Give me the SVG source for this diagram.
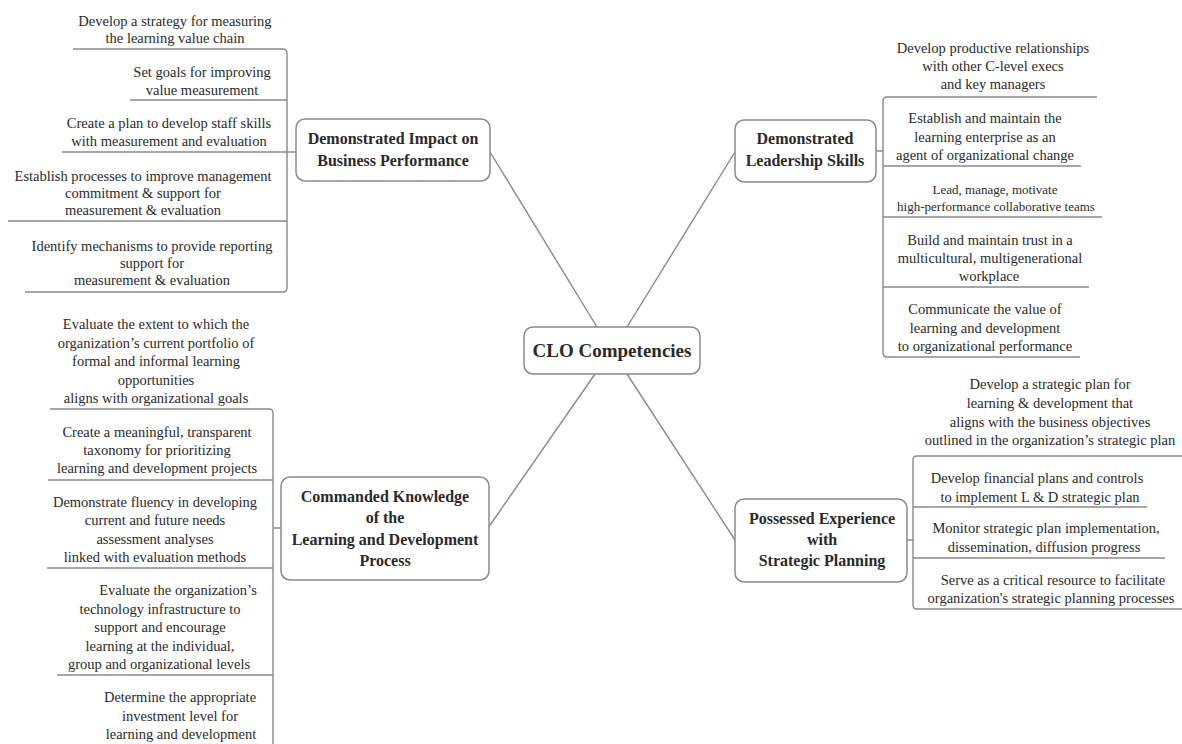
<svg xmlns="http://www.w3.org/2000/svg" width="1182" height="744" viewBox="0 0 1182 744">
<style>
.bg{fill:#ffffff}
.box{fill:#ffffff;stroke:#8a8a8a;stroke-width:1.5}
.t{font-family:"Liberation Serif","Times New Roman",serif;font-size:14.5px;fill:#2a2a2a;text-anchor:middle}
.s{font-size:13px}
.b{font-family:"Liberation Serif","Times New Roman",serif;font-weight:bold;font-size:16px;fill:#2a2a2a;text-anchor:middle}
.c{font-size:19px}
.ln{fill:none;stroke:#8a8a8a;stroke-width:1.4}
</style>
<rect class="bg" x="0" y="0" width="1182" height="744"/>

<g id="connectors">
  <line class="ln" x1="597" y1="327" x2="490" y2="152"/>
  <line class="ln" x1="627" y1="327" x2="735" y2="152"/>
  <line class="ln" x1="595" y1="374" x2="488" y2="528"/>
  <line class="ln" x1="627" y1="374" x2="735" y2="540"/>
  <!-- brackets -->
  <path class="ln" d="M287 53 Q287 49 283 49 M287 53 V288 Q287 292 283 292 M287 152 H296"/>
  <path class="ln" d="M273 413 Q273 409 269 409 M273 413 V744 M273 528 H281"/>
  <path class="ln" d="M883 101 Q883 97 887 97 M883 101 V353 Q883 357 887 357 M876 151 H883"/>
  <path class="ln" d="M913 460 Q913 456 917 456 M913 460 V605 Q913 609 917 609 M907 540 H913"/>
</g>

<g id="center">
  <rect class="box" x="524" y="327" width="176" height="47" rx="9"/>
  <text class="b c" x="612" y="357">CLO Competencies</text>
</g>

<g id="impact">
  <rect class="box" x="296" y="119" width="194" height="62" rx="9"/>
  <text class="b" x="393" y="144">Demonstrated Impact on</text>
  <text class="b" x="393" y="166">Business Performance</text>
</g>
<g id="impact-1">
  <text class="t" x="175" y="26">Develop a strategy for measuring</text>
  <text class="t" x="175" y="43">the learning value chain</text>
  <line class="ln" x1="73" y1="49" x2="283" y2="49"/>
</g>
<g id="impact-2">
  <text class="t" x="202" y="77">Set goals for improving</text>
  <text class="t" x="202" y="95">value measurement</text>
  <line class="ln" x1="130" y1="100" x2="287" y2="100"/>
</g>
<g id="impact-3">
  <text class="t" x="169" y="128">Create a plan to develop staff skills</text>
  <text class="t" x="169" y="146">with measurement and evaluation</text>
  <line class="ln" x1="62" y1="152" x2="287" y2="152"/>
</g>
<g id="impact-4">
  <text class="t" x="143" y="181">Establish processes to improve management</text>
  <text class="t" x="143" y="198">commitment &amp; support for</text>
  <text class="t" x="143" y="215">measurement &amp; evaluation</text>
  <line class="ln" x1="8" y1="221" x2="287" y2="221"/>
</g>
<g id="impact-5">
  <text class="t" x="152" y="251">Identify mechanisms to provide reporting</text>
  <text class="t" x="152" y="268">support for</text>
  <text class="t" x="152" y="285">measurement &amp; evaluation</text>
  <line class="ln" x1="25" y1="292" x2="283" y2="292"/>
</g>

<g id="knowledge">
  <rect class="box" x="281" y="477" width="208" height="103" rx="9"/>
  <text class="b" x="385" y="502">Commanded Knowledge</text>
  <text class="b" x="385" y="523">of the</text>
  <text class="b" x="385" y="545">Learning and Development</text>
  <text class="b" x="385" y="566">Process</text>
</g>
<g id="knowledge-1">
  <text class="t" x="156" y="329">Evaluate the extent to which the</text>
  <text class="t" x="156" y="347.5">organization’s current portfolio of</text>
  <text class="t" x="156" y="366">formal and informal learning</text>
  <text class="t" x="156" y="384.5">opportunities</text>
  <text class="t" x="156" y="403">aligns with organizational goals</text>
  <line class="ln" x1="50" y1="409" x2="269" y2="409"/>
</g>
<g id="knowledge-2">
  <text class="t" x="157" y="437">Create a meaningful, transparent</text>
  <text class="t" x="157" y="455">taxonomy for prioritizing</text>
  <text class="t" x="157" y="473">learning and development projects</text>
  <line class="ln" x1="48" y1="480" x2="273" y2="480"/>
</g>
<g id="knowledge-3">
  <text class="t" x="155" y="507">Demonstrate fluency in developing</text>
  <text class="t" x="155" y="525">current and future needs</text>
  <text class="t" x="155" y="543.5">assessment analyses</text>
  <text class="t" x="155" y="562">linked with evaluation methods</text>
  <line class="ln" x1="47" y1="568" x2="273" y2="568"/>
</g>
<g id="knowledge-4">
  <text class="t" x="178" y="595">Evaluate the organization’s</text>
  <text class="t" x="160" y="613.5">technology infrastructure to</text>
  <text class="t" x="160" y="632">support and encourage</text>
  <text class="t" x="160" y="650.5">learning at the individual,</text>
  <text class="t" x="159" y="669">group and organizational levels</text>
  <line class="ln" x1="57" y1="675" x2="273" y2="675"/>
</g>
<g id="knowledge-5">
  <text class="t" x="180" y="702">Determine the appropriate</text>
  <text class="t" x="180" y="720.5">investment level for</text>
  <text class="t" x="181" y="739">learning and development</text>
</g>

<g id="leadership">
  <rect class="box" x="735" y="120" width="141" height="62" rx="9"/>
  <text class="b" x="805" y="144">Demonstrated</text>
  <text class="b" x="805" y="166">Leadership Skills</text>
</g>
<g id="leadership-1">
  <text class="t" x="993" y="53">Develop productive relationships</text>
  <text class="t" x="993" y="71">with other C-level execs</text>
  <text class="t" x="993" y="89">and key managers</text>
  <line class="ln" x1="887" y1="97" x2="1097" y2="97"/>
</g>
<g id="leadership-2">
  <text class="t" x="985" y="123">Establish and maintain the</text>
  <text class="t" x="985" y="141.5">learning enterprise as an</text>
  <text class="t" x="985" y="160">agent of organizational change</text>
  <line class="ln" x1="883" y1="166" x2="1081" y2="166"/>
</g>
<g id="leadership-3">
  <text class="t s" x="995" y="194">Lead, manage, motivate</text>
  <text class="t s" x="996" y="211">high-performance collaborative teams</text>
  <line class="ln" x1="883" y1="217" x2="1102" y2="217"/>
</g>
<g id="leadership-4">
  <text class="t" x="990" y="245">Build and maintain trust in a</text>
  <text class="t" x="990" y="263">multicultural, multigenerational</text>
  <text class="t" x="989" y="281">workplace</text>
  <line class="ln" x1="883" y1="287" x2="1089" y2="287"/>
</g>
<g id="leadership-5">
  <text class="t" x="985" y="314">Communicate the value of</text>
  <text class="t" x="985" y="332.5">learning and development</text>
  <text class="t" x="985" y="351">to organizational performance</text>
  <line class="ln" x1="887" y1="357" x2="1080" y2="357"/>
</g>

<g id="planning">
  <rect class="box" x="735" y="499" width="172" height="83" rx="9"/>
  <text class="b" x="822" y="524">Possessed Experience</text>
  <text class="b" x="822" y="545">with</text>
  <text class="b" x="822" y="566">Strategic Planning</text>
</g>
<g id="planning-1">
  <text class="t" x="1050" y="389">Develop a strategic plan for</text>
  <text class="t" x="1050" y="408">learning &amp; development that</text>
  <text class="t" x="1050" y="426.5">aligns with the business objectives</text>
  <text class="t" x="1050" y="445">outlined in the organization’s strategic plan</text>
  <line class="ln" x1="917" y1="456" x2="1182" y2="456"/>
</g>
<g id="planning-2">
  <text class="t" x="1037" y="483">Develop financial plans and controls</text>
  <text class="t" x="1040" y="501.5">to implement L &amp; D strategic plan</text>
  <line class="ln" x1="913" y1="507" x2="1147" y2="507"/>
</g>
<g id="planning-3">
  <text class="t" x="1046" y="533">Monitor strategic plan implementation,</text>
  <text class="t" x="1044" y="551.5">dissemination, diffusion progress</text>
  <line class="ln" x1="913" y1="558" x2="1165" y2="558"/>
</g>
<g id="planning-4">
  <text class="t" x="1053" y="585">Serve as a critical resource to facilitate</text>
  <text class="t" x="1051" y="603">organization's strategic planning processes</text>
  <line class="ln" x1="917" y1="609" x2="1182" y2="609"/>
</g>
</svg>
